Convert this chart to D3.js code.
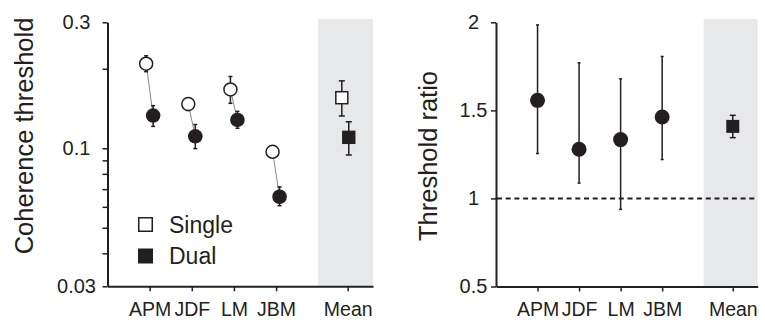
<!DOCTYPE html>
<html>
<head>
<meta charset="utf-8">
<script src="https://cdn.jsdelivr.net/npm/d3@7"></script>
<style>
  body { margin: 0; background: #fff; }
  svg { display: block; font-family: "Liberation Sans", Arial, Helvetica, sans-serif; }
  .axis path, .axis line { stroke: #231f20; }
  .axis text { fill: #231f20; }
</style>
</head>
<body>
<div id="container"></div>
<script>
// subjects + mean
var subjects = ["APM", "JDF", "LM", "JBM"];
var catLabels = ["APM", "JDF", "LM", "JBM", "Mean"];

// coherence thresholds (left panel)
var singleThr = [0.209, 0.147, 0.167, 0.097];
var singleLo  = [0.195, 0.139, 0.148, 0.0925];
var singleHi  = [0.224, 0.154, 0.187, 0.1017];
var dualThr   = [0.133, 0.111, 0.128, 0.0655];
var dualLo    = [0.121, 0.0997, 0.119, 0.0606];
var dualHi    = [0.145, 0.123, 0.138, 0.0714];
var meanSingle = [0.1554, 0.1325, 0.18];   // value, lo, hi
var meanDual   = [0.110, 0.0943, 0.126];

// threshold ratio (right panel)
var ratio   = [1.557, 1.279, 1.334, 1.462];
var ratioLo = [1.255, 1.087, 0.938, 1.221];
var ratioHi = [1.985, 1.770, 1.679, 1.806];
var meanRatio = [1.409, 1.345, 1.472];

var leftTicks  = [0.03, 0.04, 0.05, 0.06, 0.07, 0.08, 0.09, 0.1, 0.2, 0.3];
var leftLabels = [0.03, 0.1, 0.3];
var rightTicks = [0.5, 1, 1.5, 2];

var ink = "#231f20";
var band = "#e7e8ea";

var svg = d3.select("#container")
  .append("svg")
  .attr("width", 765)
  .attr("height", 324);

var catPos = [1, 2, 3, 4, 5.7];

// labels on the y axes are centred in a column left of the axis
function drawPanel(left, right, y, yTickVals, yLabelVals, labelCenter, title, titleX, titleY) {
  var x = d3.scaleLinear().domain([0, 6.3]).range([left, right]);
  var g = svg.append("g");

  // grey mean band
  g.append("rect")
    .attr("x", x(5.0))
    .attr("y", 19)
    .attr("width", right - x(5.0))
    .attr("height", y.range()[0] - 19)
    .attr("fill", band);

  var yAxis = g.append("g")
    .attr("class", "axis")
    .attr("transform", "translate(" + left + ",0)")
    .call(d3.axisLeft(y).tickValues(yTickVals).tickSize(5).tickSizeOuter(0)
      .tickFormat(function(d) { return yLabelVals.indexOf(d) >= 0 ? String(d) : ""; }));
  yAxis.select(".domain").attr("stroke-width", 2);
  yAxis.selectAll(".tick line").attr("stroke-width", 1.5);
  yAxis.selectAll("text")
    .attr("font-size", 20)
    .attr("font-family", null)
    .attr("text-anchor", "middle")
    .attr("x", labelCenter - left);

  var xAxis = g.append("g")
    .attr("class", "axis")
    .attr("transform", "translate(0," + y.range()[0] + ")")
    .call(d3.axisBottom(x).tickValues(catPos).tickSize(5).tickSizeOuter(0).tickPadding(11)
      .tickFormat(function(d, i) { return catLabels[i]; }));
  xAxis.select(".domain").attr("stroke-width", 2);
  xAxis.selectAll(".tick line").attr("stroke-width", 1.5);
  xAxis.selectAll("text").attr("font-size", 19.5).attr("font-family", null);

  g.append("text")
    .attr("transform", "translate(" + titleX + "," + titleY + ") rotate(-90)")
    .attr("text-anchor", "middle")
    .attr("font-size", 25.5)
    .attr("fill", ink)
    .text(title);

  return {g: g, x: x};
}

function errBar(g, cx, y0, y1, cap) {
  g.append("line").attr("x1", cx).attr("x2", cx).attr("y1", y0).attr("y2", y1)
    .attr("stroke", ink).attr("stroke-width", 1.5);
  [y0, y1].forEach(function(yy) {
    g.append("line").attr("x1", cx - cap / 2).attr("x2", cx + cap / 2).attr("y1", yy).attr("y2", yy)
      .attr("stroke", ink).attr("stroke-width", 1.5);
  });
}

// ---------- left panel ----------
var yL = d3.scaleLog().domain([0.03, 0.3]).range([286.3, 22.3]);
var pL = drawPanel(107.5, 373, yL, leftTicks, leftLabels, 76.5, "Coherence threshold", 32.5, 136);
var gL = pL.g, xL = pL.x;

subjects.forEach(function(s, i) {
  var xs = xL(catPos[i] - 0.083), xd = xL(catPos[i] + 0.083);
  gL.append("line")
    .attr("x1", xs).attr("y1", yL(singleThr[i]))
    .attr("x2", xd).attr("y2", yL(dualThr[i]))
    .attr("stroke", "#8a8a8a").attr("stroke-width", 1);
  errBar(gL, xs, yL(singleHi[i]), yL(singleLo[i]), 4);
  errBar(gL, xd, yL(dualHi[i]), yL(dualLo[i]), 4);
  gL.append("circle").attr("cx", xs).attr("cy", yL(singleThr[i])).attr("r", 6.5)
    .attr("fill", "#fff").attr("stroke", ink).attr("stroke-width", 1.5);
  gL.append("circle").attr("cx", xd).attr("cy", yL(dualThr[i])).attr("r", 7.3)
    .attr("fill", ink);
});

// mean squares
var xms = xL(5.7 - 0.14), xmd = xL(5.7 + 0.025);
errBar(gL, xms, yL(meanSingle[2]), yL(meanSingle[1]), 6);
errBar(gL, xmd, yL(meanDual[2]), yL(meanDual[1]), 6);
gL.append("rect").attr("x", xms - 6).attr("y", yL(meanSingle[0]) - 6).attr("width", 12).attr("height", 12)
  .attr("fill", "#fff").attr("stroke", ink).attr("stroke-width", 1.5);
gL.append("rect").attr("x", xmd - 6.7).attr("y", yL(meanDual[0]) - 6.7).attr("width", 13.4).attr("height", 13.4)
  .attr("fill", ink);

// legend
var legend = gL.append("g").attr("transform", "translate(138,217)");
legend.append("rect").attr("x", 0.75).attr("y", 0.75).attr("width", 13.5).attr("height", 13.5)
  .attr("fill", "#fff").attr("stroke", ink).attr("stroke-width", 1.5);
legend.append("rect").attr("x", 0).attr("y", 31.5).attr("width", 15).attr("height", 15)
  .attr("fill", ink);
legend.append("text").attr("x", 31).attr("y", 15.5).attr("font-size", 23).attr("fill", ink).text("Single");
legend.append("text").attr("x", 31).attr("y", 46.5).attr("font-size", 23).attr("fill", ink).text("Dual");

// ---------- right panel ----------
var yR = d3.scaleLinear().domain([0.5, 2]).range([286.5, 22.3]);
var pR = drawPanel(496, 757.7, yR, rightTicks, rightTicks, 473.5, "Threshold ratio", 436.5, 156);
var gR = pR.g, xR = pR.x;

gR.append("line")
  .attr("x1", 497).attr("x2", 757.7)
  .attr("y1", yR(1)).attr("y2", yR(1))
  .attr("stroke", ink).attr("stroke-width", 2)
  .attr("stroke-dasharray", "5,3.7");

subjects.forEach(function(s, i) {
  var cx = xR(catPos[i]);
  errBar(gR, cx, yR(ratioHi[i]), yR(ratioLo[i]), 3);
  gR.append("circle").attr("cx", cx).attr("cy", yR(ratio[i])).attr("r", 7.5).attr("fill", ink);
});

var xmr = xR(5.7);
errBar(gR, xmr, yR(meanRatio[2]), yR(meanRatio[1]), 6);
gR.append("rect").attr("x", xmr - 6.5).attr("y", yR(meanRatio[0]) - 6.5).attr("width", 13).attr("height", 13)
  .attr("fill", ink);
</script>
</body>
</html>
